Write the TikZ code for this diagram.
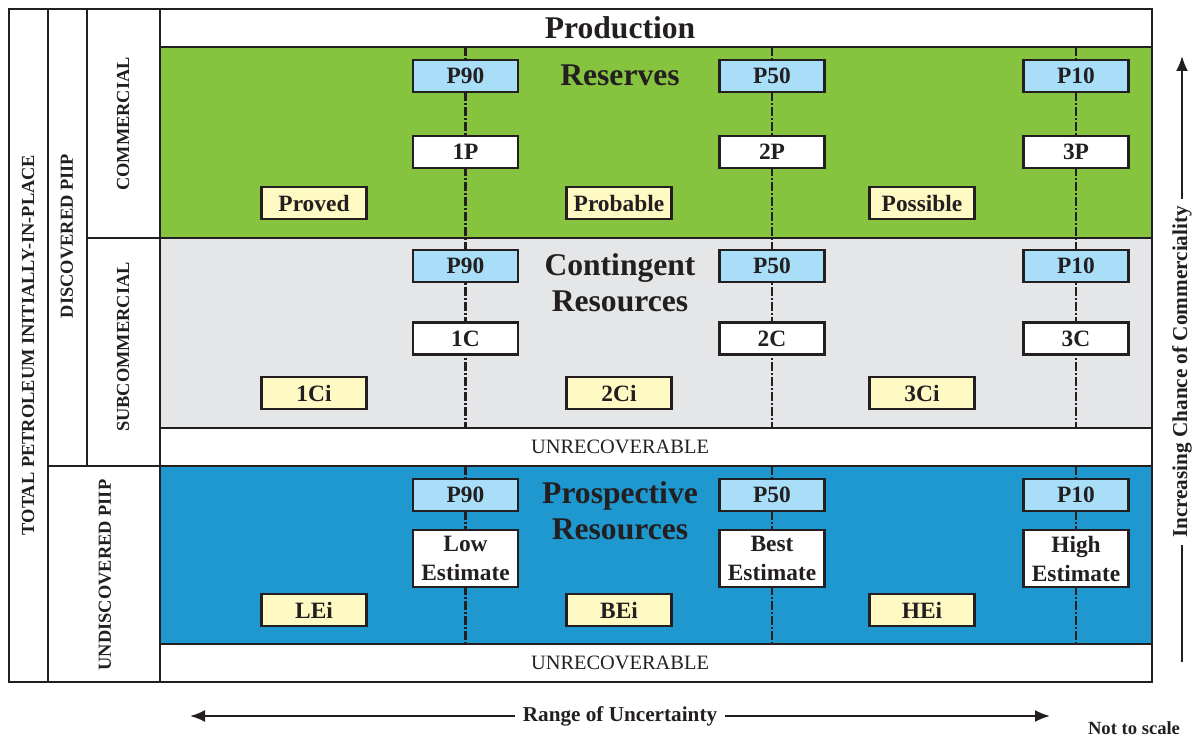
\documentclass[tikz,border=0pt]{standalone}
\usepackage{fontspec}
\setmainfont{Liberation Serif}
\usetikzlibrary{arrows.meta}
\definecolor{ink}{HTML}{231F20}
\definecolor{resgreen}{HTML}{86C440}
\definecolor{congray}{HTML}{E5E6E8}
\definecolor{prosblue}{HTML}{1E98CE}
\definecolor{pbox}{HTML}{A8DEF8}
\definecolor{ybox}{HTML}{FFF9C4}
\begin{document}
\begin{tikzpicture}[x=0.5pt,y=-0.5pt,
  frame/.style={draw=ink,line width=1pt},
  lbl/.style={draw=ink,line width=1.1pt,minimum width=52.5pt,minimum height=16pt,inner sep=0pt,align=center,
    font=\fontsize{11.7}{14.5}\selectfont\bfseries,text=ink},
  pbx/.style={lbl,fill=pbox},
  wbx/.style={lbl,fill=white},
  ebx/.style={lbl,fill=white,minimum height=28.5pt},
  ybx/.style={lbl,fill=ybox},
  cutline/.style={ink,line width=1.2pt,dash pattern=on 4.5pt off 1pt on 1pt off 1pt},
  head/.style={font=\fontsize{15.8}{18}\selectfont\bfseries,text=ink,align=center},
  side/.style={rotate=90,font=\fontsize{9.2}{11}\selectfont\bfseries,text=ink},
  unrec/.style={font=\fontsize{10.2}{12}\selectfont,text=ink},
  axis/.style={font=\fontsize{10.6}{12}\selectfont\bfseries,text=ink,inner sep=3.5pt},
  axline/.style={draw=ink,line width=1pt},
  tip/.style={-{Latex[length=7.5pt,width=6pt]}}
]
\useasboundingbox (0,0) rectangle (1197,738);
% bands
\fill[resgreen] (160,47) rectangle (1152,238);
\fill[congray] (160,238) rectangle (1152,428);
\fill[prosblue] (160,466) rectangle (1152,644);
% frame
\draw[frame] (9,9) rectangle (1152,682);
\draw[frame] (48,9) -- (48,682);
\draw[frame] (87,9) -- (87,466);
\draw[frame] (160,9) -- (160,682);
\draw[frame] (160,47) -- (1152,47);
\draw[frame] (87,238) -- (1152,238);
\draw[frame] (160,428) -- (1152,428);
\draw[frame] (48,466) -- (1152,466);
\draw[frame] (160,644) -- (1152,644);
% dash-dot lines
\foreach \x in {465.5,772,1076}{
  \draw[cutline] (\x,47) -- (\x,428);
  \draw[cutline] (\x,466) -- (\x,644);
}
% headings
\node[head] (prod) at (620,28) {Production};
\node[head] (res) at (620,75) {Reserves};
\node[head] (cont) at (620,283) {Contingent\\Resources};
\node[head] (pros) at (620,511) {Prospective\\Resources};
\node[unrec] (unrA) at (620,447) {UNRECOVERABLE};
\node[unrec] (unrB) at (620,663) {UNRECOVERABLE};
% side labels
\node[side] (tot) at (28,345) {TOTAL PETROLEUM INITIALLY-IN-PLACE};
\node[side] (disc) at (67,236) {DISCOVERED PIIP};
\node[side] (comm) at (123,124) {COMMERCIAL};
\node[side] (subc) at (123,347) {SUBCOMMERCIAL};
\node[side] (undisc) at (105,575) {UNDISCOVERED PIIP};
% reserves boxes
\node[pbx] (rp90) at (465.5,76) {P90};
\node[pbx] (rp50) at (772,76) {P50};
\node[pbx] (rp10) at (1076,76) {P10};
\node[wbx] (r1p) at (465.5,152) {1P};
\node[wbx] (r2p) at (772,152) {2P};
\node[wbx] (r3p) at (1076,152) {3P};
\node[ybx] (proved) at (314,203) {Proved};
\node[ybx] (probable) at (619,203) {Probable};
\node[ybx] (possible) at (922,203) {Possible};
% contingent boxes
\node[pbx] (cp90) at (465.5,266) {P90};
\node[pbx] (cp50) at (772,266) {P50};
\node[pbx] (cp10) at (1076,266) {P10};
\node[wbx] (c1c) at (465.5,338.5) {1C};
\node[wbx] (c2c) at (772,338.5) {2C};
\node[wbx] (c3c) at (1076,338.5) {3C};
\node[ybx] (c1ci) at (314,393) {1Ci};
\node[ybx] (c2ci) at (619,393) {2Ci};
\node[ybx] (c3ci) at (922,393) {3Ci};
% prospective boxes
\node[pbx] (pp90) at (465.5,495) {P90};
\node[pbx] (pp50) at (772,495) {P50};
\node[pbx] (pp10) at (1076,495) {P10};
\node[ebx] (plow) at (465.5,558.5) {Low\\Estimate};
\node[ebx] (pbest) at (772,558.5) {Best\\Estimate};
\node[ebx] (phigh) at (1076,558.5) {High\\Estimate};
\node[ybx] (plei) at (314,610) {LEi};
\node[ybx] (pbei) at (619,610) {BEi};
\node[ybx] (phei) at (922,610) {HEi};
% range of uncertainty
\coordinate (rl) at (190,716);
\coordinate (rr) at (1050,716);
\node[axis] (rng) at (620,716) {Range of Uncertainty};
\draw[axline,tip] (rng) -- (rl);
\draw[axline,tip] (rng) -- (rr);
% increasing chance
\coordinate (ct) at (1182,56);
\coordinate (cb) at (1182,662);
\node[axis,rotate=90] (inc) at (1182,372) {Increasing Chance of Commerciality};
\draw[axline,tip] (inc) -- (ct);
\draw[axline] (inc) -- (cb);
\node[font=\fontsize{9.3}{11}\selectfont\bfseries,text=ink,inner sep=1pt] (nts) at (1134,728) {Not to scale};
\end{tikzpicture}
\end{document}
